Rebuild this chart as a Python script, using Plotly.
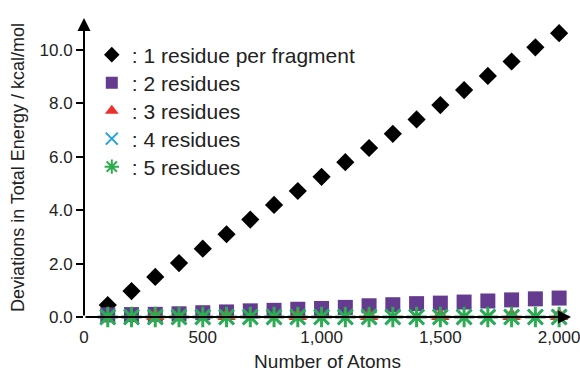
import plotly.graph_objects as go

atoms = [100, 200, 300, 400, 500, 600, 700, 800, 900, 1000,
         1100, 1200, 1300, 1400, 1500, 1600, 1700, 1800, 1900, 2000]
res1 = [0.45, 0.97, 1.50, 2.02, 2.56, 3.10, 3.65, 4.20, 4.72, 5.25,
        5.80, 6.33, 6.86, 7.40, 7.94, 8.50, 9.03, 9.57, 10.10, 10.63]
res2 = [0.08, 0.09, 0.10, 0.12, 0.16, 0.19, 0.23, 0.25, 0.29, 0.32,
        0.36, 0.42, 0.46, 0.50, 0.52, 0.56, 0.60, 0.64, 0.68, 0.71]
atoms3 = [300, 600, 900, 1200, 1500, 1800, 2000]
res3 = [0.04, 0.04, 0.04, 0.04, 0.04, 0.04, 0.04]
res4 = [0.0] * 20
res5 = [0.0] * 20

names = [": 1 residue per fragment", ": 2 residues", ": 3 residues",
         ": 4 residues", ": 5 residues"]
xticks = [0, 500, 1000, 1500, 2000]
xticklabels = ["0", "500", "1,000", "1,500", "2,000"]
yticks = [0, 2, 4, 6, 8, 10]
yticklabels = ["0.0", "2.0", "4.0", "6.0", "8.0", "10.0"]

FONT = "Liberation Sans, Arial, sans-serif"
fig = go.Figure()
fig.add_trace(go.Scatter(x=atoms, y=res1, mode="markers", name=names[0], legend="legend",
                         marker=dict(symbol="diamond", size=14, color="#000000")))
fig.add_trace(go.Scatter(x=atoms, y=res2, mode="markers", name=names[1], legend="legend2",
                         marker=dict(symbol="square", size=15, color="#643b8f")))
fig.add_trace(go.Scatter(x=atoms3, y=res3, mode="markers", name=names[2], legend="legend3",
                         marker=dict(symbol="triangle-up", size=16, color="#ec2f2d")))
fig.add_trace(go.Scatter(x=atoms, y=res4, mode="markers", name=names[3], legend="legend4",
                         marker=dict(symbol="x-thin-open", size=15, color="#1ea3dc",
                                     line=dict(width=2.5, color="#1ea3dc"))))
fig.add_trace(go.Scatter(x=atoms, y=res5, mode="markers", name=names[4], legend="legend5",
                         marker=dict(symbol="asterisk-open", size=17, color="#2fac4f",
                                     line=dict(width=3, color="#2fac4f"))))
fig.update_traces(cliponaxis=False)

# plot area spans pixel rows 18..317
row_px = [55, 83, 111, 139, 167]
legends = {}
for i, p in enumerate(row_px):
    key = "legend" if i == 0 else f"legend{i + 1}"
    legends[key] = dict(x=0.016, y=(317 - p) / 299, xanchor="left", yanchor="middle",
                        font=dict(family=FONT, size=21, color="#222222"),
                        bgcolor="rgba(0,0,0,0)", itemsizing="constant")

fig.update_layout(
    width=580, height=372,
    margin=dict(l=84, r=0, t=18, b=55),
    paper_bgcolor="white", plot_bgcolor="white",
    font=dict(family=FONT, size=17, color="#222222"),
    showlegend=True,
    **legends,
    xaxis=dict(range=[0, 2050], showgrid=False, zeroline=False,
               showline=False, tickmode="array", tickvals=xticks,
               ticktext=xticklabels, ticks="outside", ticklen=5,
               tickcolor="rgba(0,0,0,0)", ticklabeloverflow="allow",
               tickfont=dict(size=17),
               title=dict(text="Number of Atoms", font=dict(size=19), standoff=9)),
    yaxis=dict(range=[0, 11.2], showgrid=False, zeroline=False,
               showline=False, tickmode="array", tickvals=yticks,
               ticktext=yticklabels, ticks="outside", ticklen=7,
               tickcolor="#000000", tickwidth=1.5, tickfont=dict(size=17),
               title=dict(text="Deviations in Total Energy / kcal/mol",
                          font=dict(size=18), standoff=10)),
)

# axis lines with arrowheads
fig.add_annotation(x=2050, y=0, ax=0, ay=0, xref="x", yref="y", axref="x", ayref="y",
                   showarrow=True, arrowhead=2, arrowsize=1.3, arrowwidth=2,
                   arrowcolor="#000000", text="")
fig.add_annotation(x=0, y=11.2, ax=0, ay=0, xref="x", yref="y", axref="x", ayref="y",
                   showarrow=True, arrowhead=2, arrowsize=1.3, arrowwidth=2,
                   arrowcolor="#000000", text="")

fig.write_html("out.html")
